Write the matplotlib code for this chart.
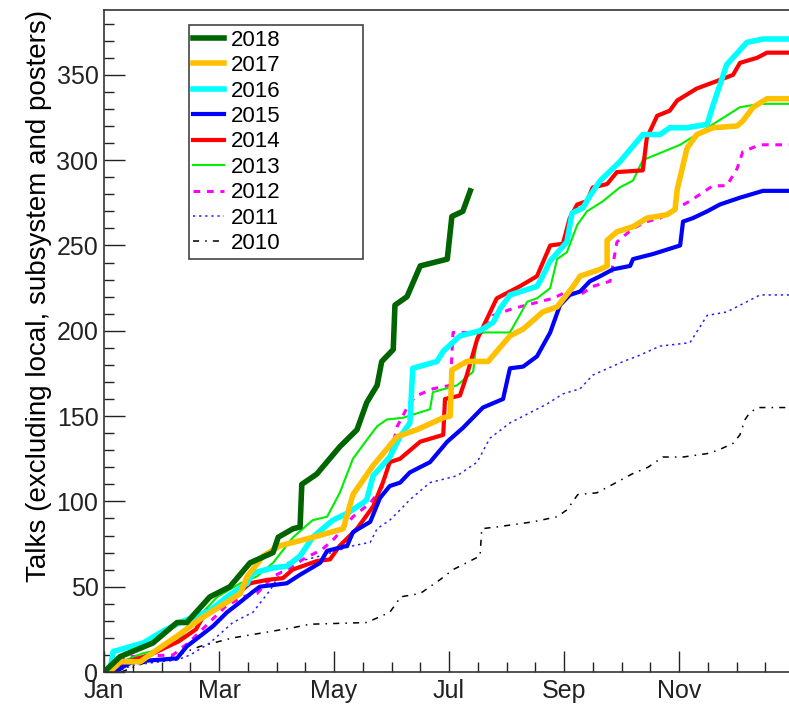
import numpy as np
import matplotlib
matplotlib.use('Agg')
import matplotlib.pyplot as plt

matplotlib.rc('font', family='Liberation Sans', size=18)

# x in months since Jan 1, y = cumulative number of talks
m2018 = [0, 0.28, 0.85, 1.27, 1.44, 1.84, 2.19, 2.54, 2.94, 3.03, 3.29, 3.41, 3.44, 3.70,
         4.10, 4.40, 4.57, 4.75, 4.83, 5.03, 5.06, 5.27, 5.50, 5.97, 6.05, 6.24, 6.37]
v2018 = [0, 9, 17, 29, 29, 44, 50, 64, 70, 79, 84, 85, 110, 116,
         132, 142, 158, 168, 182, 189, 215, 220, 238, 242, 267, 270, 282]

m2017 = [0.1, 0.28, 0.63, 0.92, 1.27, 1.67, 2.14, 2.37, 2.49, 2.77, 3.06, 3.64, 4.16, 4.33,
         4.68, 5.10, 5.44, 5.90, 6.02, 6.05, 6.31, 6.68, 7.06, 7.29, 7.63, 7.88, 8.16, 8.28,
         8.63, 8.75, 8.75, 8.92, 9.20, 9.44, 9.79, 9.93, 9.97, 10.14, 10.31, 10.59, 11.01,
         11.11, 11.29, 11.53, 12.0]
v2017 = [0, 6, 6, 13, 21, 31, 41, 46, 56, 68, 74, 79, 84, 104,
         121, 138, 142, 149, 150, 177, 182, 182, 197, 201, 211, 214, 226, 232,
         236, 238, 253, 258, 261, 266, 268, 271, 283, 307, 315, 319, 320,
         323, 331, 336, 336]

m2016 = [0.1, 0.16, 0.68, 1.03, 1.32, 1.84, 2.14, 2.49, 2.59, 2.94, 3.18, 3.41, 3.63, 3.98,
         4.23, 4.50, 4.57, 4.68, 4.97, 5.15, 5.32, 5.37, 5.79, 5.90, 6.19, 6.54, 6.77, 6.89,
         7.06, 7.53, 7.63, 7.76, 8.05, 8.14, 8.33, 8.45, 8.63, 8.97, 9.37, 9.67, 9.84, 10.14,
         10.49, 10.59, 10.83, 11.18, 11.46, 12.0]
v2016 = [0, 12, 17, 24, 29, 36, 44, 52, 58, 61, 62, 68, 79, 89,
         93, 99, 101, 115, 126, 138, 146, 178, 182, 188, 197, 200, 205, 213,
         221, 226, 232, 241, 252, 269, 272, 279, 288, 299, 315, 315, 319, 319,
         321, 332, 356, 369, 371, 371]

m2015 = [0.2, 0.33, 0.5, 1.27, 1.44, 1.67, 1.90, 2.14, 2.37, 2.59, 2.71, 3.18, 3.41, 3.76,
         3.88, 4.23, 4.33, 4.63, 4.80, 4.97, 5.15, 5.32, 5.67, 5.97, 6.24, 6.59, 6.94, 7.06,
         7.29, 7.53, 7.76, 7.93, 8.10, 8.28, 8.45, 8.63, 8.85, 9.15, 9.20, 9.55, 10.02, 10.07,
         10.24, 10.49, 10.71, 11.06, 11.46, 12.0]
v2015 = [0, 3, 6, 8, 15, 21, 27, 35, 41, 47, 50, 52, 57, 64,
         71, 74, 82, 88, 102, 109, 111, 117, 123, 135, 143, 155, 160, 178,
         179, 185, 199, 215, 221, 223, 229, 232, 236, 238, 242, 245, 250, 264,
         266, 270, 274, 278, 282, 282]

m2014 = [0, 0.3, 0.8, 1.3, 1.6, 1.7, 1.8, 1.97, 2.25, 2.54, 2.84, 3.11, 3.28, 3.70, 3.93,
         4.10, 4.40, 4.68, 4.85, 4.97, 5.15, 5.50, 5.90, 5.93, 6.19, 6.31, 6.49, 6.66, 6.83,
         7.23, 7.53, 7.76, 7.98, 8.10, 8.23, 8.40, 8.50, 8.75, 8.92, 9.37, 9.44, 9.62, 9.84,
         9.97, 10.31, 10.71, 10.94, 11.06, 11.36, 11.53, 12.0]
v2014 = [0, 5, 10, 18, 25, 31, 36, 38, 44, 52, 54, 55, 60, 65, 66,
         74, 84, 97, 111, 123, 125, 135, 139, 160, 162, 174, 195, 207, 219,
         226, 232, 250, 251, 266, 274, 276, 284, 286, 293, 294, 313, 326, 329,
         335, 342, 347, 350, 357, 360, 363, 363]

m2013 = [0, 0.3, 0.68, 0.97, 1.27, 1.55, 1.97, 2.37, 2.66, 2.94, 3.29, 3.63, 3.88, 4.10,
         4.33, 4.57, 4.75, 4.92, 5.20, 5.67, 5.72, 6.14, 6.42, 6.49, 6.59, 7.06, 7.36, 7.53,
         7.76, 7.88, 8.05, 8.23, 8.40, 8.68, 8.97, 9.20, 9.37, 10.02, 10.59, 11.06, 11.41, 12.0]
v2013 = [0, 6, 11, 13, 18, 29, 44, 52, 56, 64, 79, 89, 91, 105,
         125, 136, 144, 148, 149, 154, 164, 168, 176, 197, 199, 199, 217, 219,
         225, 242, 246, 262, 270, 276, 284, 288, 300, 309, 321, 331, 333, 333]

m2012 = [0.1, 0.4, 1.2, 1.5, 1.8, 2.1, 2.4, 2.66, 2.94, 3.18, 3.46, 3.8, 4.0, 4.33, 4.63,
         4.85, 4.97, 5.10, 5.32, 5.44, 5.72, 6.02, 6.05, 6.07, 6.59, 6.77, 7.11, 7.81, 8.05,
         8.28, 8.50, 8.80, 8.92, 9.20, 9.44, 9.67, 9.97, 10.19, 10.59, 10.83, 11.01, 11.11,
         11.41, 12.0]
v2012 = [0, 9, 10, 18, 28, 38, 44, 46, 56, 60, 66, 72, 78, 91, 99,
         109, 126, 144, 158, 162, 166, 168, 185, 199, 199, 209, 213, 219, 223,
         221, 226, 229, 252, 260, 264, 266, 272, 276, 285, 285, 295, 305,
         309, 309]

m2011 = [0.2, 0.5, 0.97, 1.27, 1.5, 1.84, 2.24, 2.59, 2.89, 3.18, 3.53, 3.76, 4.33, 4.63,
         4.75, 4.97, 5.15, 5.32, 5.67, 6.14, 6.49, 6.71, 7.06, 7.41, 7.70, 7.98, 8.28, 8.50,
         9.03, 9.27, 9.67, 10.19, 10.49, 10.83, 11.18, 11.41, 12.0]
v2011 = [0, 4, 6, 7, 10, 17, 29, 35, 48, 64, 66, 68, 74, 76,
         84, 89, 95, 101, 111, 115, 123, 137, 146, 152, 157, 163, 166, 174,
         182, 185, 191, 193, 209, 211, 217, 221, 221]

m2010 = [0.3, 0.68, 1.2, 1.67, 2.24, 2.77, 3.29, 3.58, 4.57, 4.97, 5.10, 5.15, 5.50, 5.84,
         6.07, 6.54, 6.57, 6.83, 7.46, 7.88, 8.05, 8.24, 8.57, 8.85, 9.18, 9.46, 9.72, 10.07,
         10.49, 10.68, 10.94, 11.06, 11.15, 11.23, 11.37, 12.0]
v2010 = [0, 5, 9, 15, 20, 23, 26, 28, 29, 35, 41, 44, 46, 54,
         60, 68, 84, 85, 88, 91, 95, 104, 105, 110, 116, 120, 126, 126,
         128, 130, 134, 139, 148, 152, 155, 155]

month_labels = ['Jan', 'Mar', 'May', 'Jul', 'Sep', 'Nov']

fig = plt.figure(figsize=(7.89, 7.04), dpi=100)
ax = fig.add_axes([104 / 789, 32 / 704, 690 / 789, 662 / 704])

ax.plot(m2010, v2010, color='k', lw=1.1, ls=(0, (4, 4, 1, 4)), label='2010')
ax.plot(m2011, v2011, color='#2020ff', lw=1.1, ls=(0, (1.5, 2.5)), label='2011')
ax.plot(m2012, v2012, color='#ff00ff', lw=2.2, ls=(0, (2.2, 2.2)), label='2012')
ax.plot(m2013, v2013, color='#00ee00', lw=1.5, label='2013')
ax.plot(m2014, v2014, color='#ff0000', lw=3.0, label='2014')
ax.plot(m2015, v2015, color='#0000ff', lw=3.0, label='2015')
ax.plot(m2016, v2016, color='#00ffff', lw=4.0, label='2016')
ax.plot(m2017, v2017, color='#ffc000', lw=4.0, label='2017')
ax.plot(m2018, v2018, color='#006400', lw=4.0, label='2018')

ax.set_xlim(0, 12)
ax.set_ylim(0, 388)
ax.set_xticks(np.arange(0, 12, 2))
ax.set_xticklabels(month_labels)
ax.set_xticks(np.arange(0, 12.01, 0.5), minor=True)
ax.set_yticks(np.arange(0, 351, 50))
ax.set_yticks(np.arange(0, 388, 10), minor=True)

ax.tick_params(which='both', direction='in', width=1.0, colors='#222222')
ax.tick_params(which='major', length=15)
ax.tick_params(which='minor', length=7.5)
ax.tick_params(axis='x', pad=5)
ax.tick_params(axis='y', pad=4)
for s in ax.spines.values():
    s.set_linewidth(1.2)
    s.set_color('#333333')

ax.set_ylabel('Talks (excluding local, subsystem and posters)', loc='top',
              labelpad=3, fontsize=20)

handles, labels = ax.get_legend_handles_labels()
leg = ax.legend(handles[::-1], labels[::-1], loc='upper left',
                bbox_to_anchor=(0.123, 0.625, 0.252, 0.352), mode='expand',
                borderaxespad=0, fontsize=16, labelspacing=0.2, borderpad=0.2,
                handlelength=1.4, handletextpad=0.3, fancybox=False, framealpha=1)
leg.get_frame().set_edgecolor('#444444')
leg.get_frame().set_linewidth(1.2)

plt.savefig('out.png', dpi=100)
